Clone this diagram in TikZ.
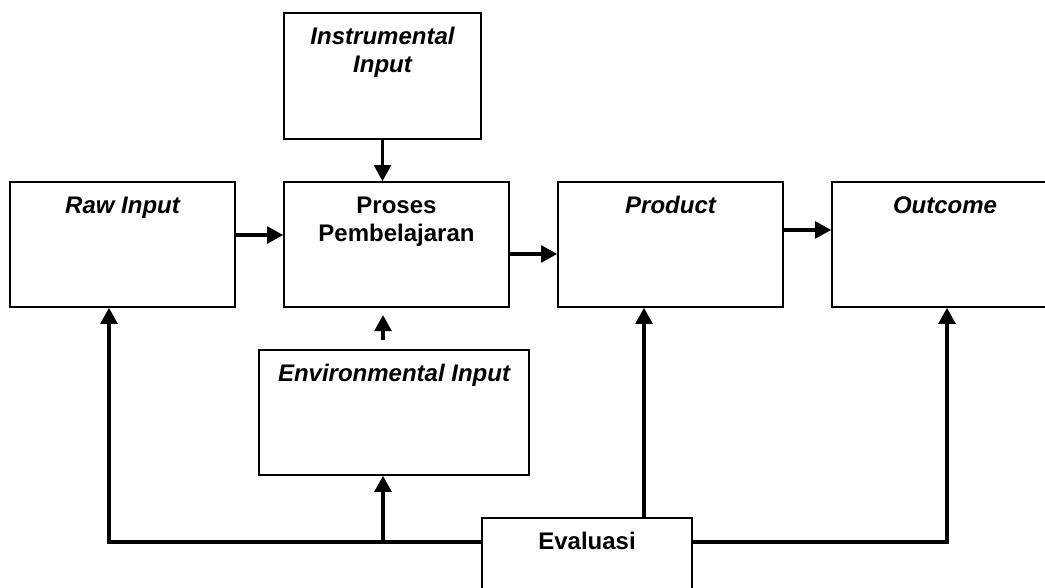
\documentclass[tikz,border=0pt]{standalone}
\usepackage{fontspec}
\setmainfont{Liberation Sans}
\usetikzlibrary{arrows.meta}
\begin{document}
\begin{tikzpicture}[x=0.75pt,y=-0.75pt,
  box/.style={draw,line width=1.2pt,rectangle,inner sep=0pt},
  lbl/.style={font=\fontsize{18}{21}\selectfont\bfseries,align=center,anchor=base,inner sep=0pt},
  conn/.style={line width=2.4pt,line join=miter,-{Triangle[length=12pt,width=12.5pt]}}]
\useasboundingbox (0,0) rectangle (1045,588);
\clip (0,0) rectangle (1045,588);
% boxes
\node[box,minimum width=147.75pt,minimum height=94.5pt] (instr) at (382.5,76) {};
\node[box,minimum width=168.75pt,minimum height=93.75pt] (raw) at (122.5,244.5) {};
\node[box,minimum width=168.75pt,minimum height=93.75pt] (proc) at (396.5,244.5) {};
\node[box,minimum width=168.75pt,minimum height=93.75pt] (product) at (670.5,244.5) {};
\node[box,minimum width=169.5pt,minimum height=93.75pt] (outcome) at (945,244.5) {};
\node[box,minimum width=202.5pt,minimum height=93.75pt] (env) at (394,412.5) {};
\node[box,minimum width=157.5pt,minimum height=63pt] (eval) at (587,560) {};
% labels (base = last line)
\node[lbl] (instrT) at ([yshift=-45pt]instr.north) {\itshape Instrumental\\\itshape Input};
\node[lbl] (rawT) at ([yshift=-24pt]raw.north) {\itshape Raw Input};
\node[lbl] (procT) at ([yshift=-45pt]proc.north) {Proses\\Pembelajaran};
\node[lbl] (productT) at ([yshift=-24pt]product.north) {\itshape Product};
\node[lbl] (outcomeT) at ([yshift=-24pt]outcome.north) {\itshape Outcome};
\node[lbl] (envTxt) at ([yshift=-24pt]env.north) {\itshape Environmental Input};
\node[lbl] (evalT) at ([yshift=-24pt]eval.north) {Evaluasi};
% connectors
\draw[conn] (instr.south) -- (instr.south |- proc.north);
\draw[conn] ([yshift=7.1pt]raw.east) -- ([yshift=7.1pt]raw.east -| proc.west);
\draw[conn] ([yshift=-7.1pt]proc.east) -- ([yshift=-7.1pt]proc.east -| product.west);
\draw[conn] ([yshift=10.9pt]product.east) -- ([yshift=10.9pt]product.east -| outcome.west);
\coordinate (envTop) at (383,315);
\coordinate (envBot) at (383,340);
\draw[conn] (envBot) -- (envTop);
\coordinate (jL) at (109,542);
\coordinate (jE) at (383,542);
\coordinate (jP) at (644,0);
\coordinate (jO) at (947,542);
\draw[conn] (eval.west |- jL) -- (jL) -- (jL |- raw.south);
\draw[conn] (jE) -- (jE |- env.south);
\draw[conn] (eval.north -| jP) -- (product.south -| jP);
\draw[conn] (eval.east |- jO) -- (jO) -- (jO |- outcome.south);
\end{tikzpicture}
\end{document}
